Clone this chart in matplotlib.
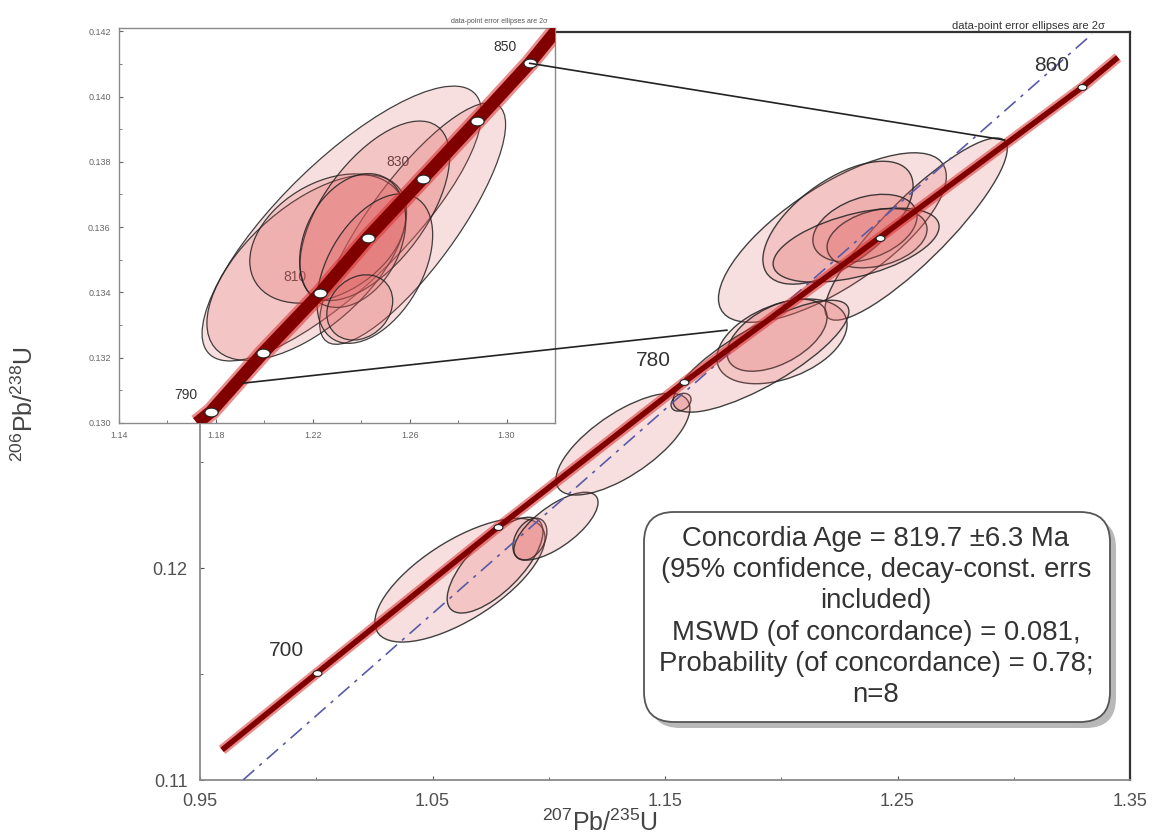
import matplotlib.pyplot as plt
import numpy as np
from matplotlib.patches import Ellipse, FancyBboxPatch, ConnectionPatch
from matplotlib.transforms import Affine2D
from matplotlib.path import Path
from matplotlib.colors import to_rgba

plt.rcParams['font.family'] = ['Liberation Sans', 'DejaVu Sans']
plt.rcParams['mathtext.default'] = 'regular'

# ---- main plot data (207Pb/235U, 206Pb/238U) ----
conc_ages = [700, 740, 780, 820, 860]
conc_x = [1.0003, 1.0782, 1.1582, 1.2423, 1.3294]
conc_y = [0.11505, 0.12193, 0.12877, 0.1356, 0.14269]
conc_end_x = [0.9595, 1.3448]
conc_end_y = [0.11142, 0.1441]
conc_labels = [700, 780, 860]

ref_x = [0.9685, 1.3337]
ref_y = [0.1100, 0.1452]

# error ellipses: centre, half-extent in x and y, correlation
ell_x = [1.0618, 1.0769, 1.0919, 1.1031, 1.1319, 1.1569,
         1.2220, 1.2580, 1.2244, 1.2360, 1.2412, 1.2322, 1.2003, 1.1982, 1.1913]
ell_y = [0.11943, 0.12014, 0.12137, 0.12198, 0.12585, 0.12783,
         0.13560, 0.13600, 0.13630, 0.13604, 0.13557, 0.13524, 0.13070, 0.13099, 0.1300]
ell_ex = [0.0366, 0.0206, 0.0073, 0.0181, 0.0288, 0.0043,
          0.0490, 0.0392, 0.0323, 0.0224, 0.0215, 0.0357, 0.0280, 0.0215, 0.0378]
ell_ey = [0.00292, 0.00226, 0.00099, 0.0016, 0.0024, 0.00042,
          0.0040, 0.00430, 0.00290, 0.00160, 0.00140, 0.00175, 0.00200, 0.00170, 0.00264]
ell_rho = [0.68, 0.7, 0.35, 0.7, 0.7, 0.3,
           0.72, 0.88, 0.6, 0.35, 0.3, 0.5, 0.4, 0.5, 0.8]

# ---- inset data ----
in_ages = [790, 800, 810, 820, 830, 840, 850]
in_x = [1.1779, 1.1994, 1.2229, 1.2427, 1.2654, 1.2876, 1.3095]
in_y = [0.13034, 0.13214, 0.13397, 0.13568, 0.13748, 0.13925, 0.14102]
in_end_x = [1.1722, 1.3219]
in_end_y = [0.1300, 0.14215]
in_labels = [790, 810, 830, 850]

in_ell_x = [1.2320, 1.2612, 1.2175, 1.2262, 1.2456, 1.2365, 1.2456, 1.2394]
in_ell_y = [0.13611, 0.13611, 0.13476, 0.13565, 0.1365, 0.13559, 0.13473, 0.13354]
in_ell_ex = [0.0577, 0.0384, 0.0412, 0.0322, 0.0309, 0.0219, 0.0239, 0.0136]
in_ell_ey = [0.00421, 0.0037, 0.00284, 0.00198, 0.00275, 0.00205, 0.00229, 0.0010]
in_ell_rho = [0.8, 0.82, 0.6, 0.35, 0.6, 0.3, 0.45, 0.2]

# zoom links: inset point -> main point
link_in_x = [1.3095, 1.1911]
link_in_y = [0.14102, 0.13122]
link_main_x = [1.2962, 1.1767]
link_main_y = [0.1402, 0.13123]

box_text = ('Concordia Age = 819.7 \u00b16.3 Ma\n'
            '(95% confidence, decay-const. errs\n'
            'included)\n'
            'MSWD (of concordance) = 0.081,\n'
            'Probability (of concordance) = 0.78;\n'
            'n=8')

W, H = 1157, 838
fig = plt.figure(figsize=(W / 100, H / 100), dpi=100)


def draw_ellipses(ax, xs, ys, exs, eys, rhos, lw):
    for cx, cy, ex, ey, r in zip(xs, ys, exs, eys, rhos):
        m = Affine2D.from_values(ex, ey * r, 0, ey * np.sqrt(1 - r ** 2), cx, cy)
        e = Ellipse((0, 0), 2, 2, transform=m + ax.transData,
                    facecolor=to_rgba('#e06060', 0.2),
                    edgecolor=to_rgba('#222222', 0.85), lw=lw, zorder=2)
        ax.add_patch(e)


def draw_concordia(ax, ex, ey, xs, ys, wide, dark, msize):
    lx = [ex[0]] + list(xs) + [ex[1]]
    ly = [ey[0]] + list(ys) + [ey[1]]
    ax.plot(lx, ly, color='#d83030', lw=wide, alpha=0.55, solid_capstyle='butt', zorder=4)
    ax.plot(lx, ly, color='#800000', lw=dark, solid_capstyle='butt', zorder=4)
    mk = Path.unit_circle().transformed(Affine2D().scale(1.5, 1.0))
    ax.scatter(xs, ys, marker=mk, s=msize, facecolor='white',
               edgecolor='#222222', linewidths=0.8, zorder=5)


def style_axis(ax, color, lsize, pad):
    ax.tick_params(which='both', direction='in', colors=color, labelsize=lsize, pad=pad)
    ax.tick_params(which='major', length=3)
    ax.tick_params(which='minor', length=2)


# ---- main axes ----
ax = fig.add_axes([200 / W, 1 - 780 / H, 930 / W, 748 / H])
ax.set_xlim(0.95, 1.35)
ax.set_ylim(0.11, 0.1453)
draw_ellipses(ax, ell_x, ell_y, ell_ex, ell_ey, ell_rho, 1.0)
ax.plot(ref_x, ref_y, color='#5a5aa8', lw=1.2, dashes=(9, 4, 2, 4), zorder=3)
draw_concordia(ax, conc_end_x, conc_end_y, conc_x, conc_y, 7.5, 4, 40)
for a, x, y in zip(conc_ages, conc_x, conc_y):
    if a in conc_labels:
        ax.annotate(str(a), (x, y), xytext=(-22, 16), textcoords='offset points',
                    ha='center', va='center', fontsize=15, color='#333333', zorder=6)
ax.set_xticks([0.95, 1.05, 1.15, 1.25, 1.35])
ax.set_xticks([1.0, 1.1, 1.2, 1.3], minor=True)
ax.set_xticklabels(['0.95', '1.05', '1.15', '1.25', '1.35'])
ax.set_yticks([0.11, 0.12, 0.13, 0.14])
ax.set_yticks([0.115, 0.125, 0.135], minor=True)
ax.set_yticklabels(['0.11', '0.12', '0.13', '0.14'])
style_axis(ax, '#505050', 13, 9)
for s in ['left', 'bottom']:
    ax.spines[s].set_color('#8a8a8a')
    ax.spines[s].set_linewidth(1.3)
for s in ['top', 'right']:
    ax.spines[s].set_color('#333333')
    ax.spines[s].set_linewidth(1.6)
ax.text(0.973, 1.002, 'data-point error ellipses are 2\u03c3', transform=ax.transAxes,
        ha='right', va='bottom', fontsize=8, color='#333333')

# ---- inset axes ----
axi = fig.add_axes([119 / W, 1 - 423 / H, 436 / W, 395 / H])
axi.set_facecolor('white')
axi.set_xlim(1.14, 1.32)
axi.set_ylim(0.130, 0.1421)
draw_ellipses(axi, in_ell_x, in_ell_y, in_ell_ex, in_ell_ey, in_ell_rho, 0.9)
for a, x, y in zip(in_ages, in_x, in_y):
    if a in in_labels:
        axi.annotate(str(a), (x, y), xytext=(-18, 12), textcoords='offset points',
                     ha='center', va='center', fontsize=10, color='#333333', zorder=1)
draw_concordia(axi, in_end_x, in_end_y, in_x, in_y, 13, 9, 90)
axi.set_xticks([1.14, 1.18, 1.22, 1.26, 1.30])
axi.set_xticks([1.16, 1.20, 1.24, 1.28], minor=True)
axi.set_xticklabels(['1.14', '1.18', '1.22', '1.26', '1.30'])
axi.set_yticks([0.130, 0.132, 0.134, 0.136, 0.138, 0.140, 0.142])
axi.set_yticks([0.131, 0.133, 0.135, 0.137, 0.139, 0.141], minor=True)
axi.set_yticklabels(['0.130', '0.132', '0.134', '0.136', '0.138', '0.140', '0.142'])
style_axis(axi, '#666666', 6.5, 6)
for s in axi.spines.values():
    s.set_color('#8a8a8a')
    s.set_linewidth(1.0)
axi.text(0.982, 1.008, 'data-point error ellipses are 2\u03c3', transform=axi.transAxes,
         ha='right', va='bottom', fontsize=5, color='#555555')

# ---- zoom links ----
for xi, yi, xm, ym in zip(link_in_x, link_in_y, link_main_x, link_main_y):
    con = ConnectionPatch((xi, yi), (xm, ym), coordsA=axi.transData, coordsB=ax.transData,
                          color='#222222', lw=1.2, zorder=10)
    fig.add_artist(con)

# ---- result box (overlay in pixel units) ----
ov = fig.add_axes([0, 0, 1, 1])
ov.set_xlim(0, W)
ov.set_ylim(H, 0)
ov.axis('off')
ov.add_patch(FancyBboxPatch((650, 518), 466, 210, boxstyle='round,pad=0,rounding_size=30',
                            facecolor='#b8b8b8', edgecolor='none', zorder=1))
ov.add_patch(FancyBboxPatch((644, 512), 466, 210, boxstyle='round,pad=0,rounding_size=30',
                            facecolor='white', edgecolor='#555555', lw=1.3, zorder=2))
ov.text(876, 617, box_text, ha='center', va='center', fontsize=19.8, color='#333333',
        linespacing=1.26, zorder=3)

fig.text(600 / W, 1 - 823 / H, r'$^{207}$Pb/$^{235}$U', ha='center', va='center',
         fontsize=18, color='#444444')
fig.text(25 / W, 1 - 404 / H, r'$^{206}$Pb/$^{238}$U', ha='center', va='center',
         fontsize=18, color='#444444', rotation=90)

fig.savefig('out.png', dpi=100)
